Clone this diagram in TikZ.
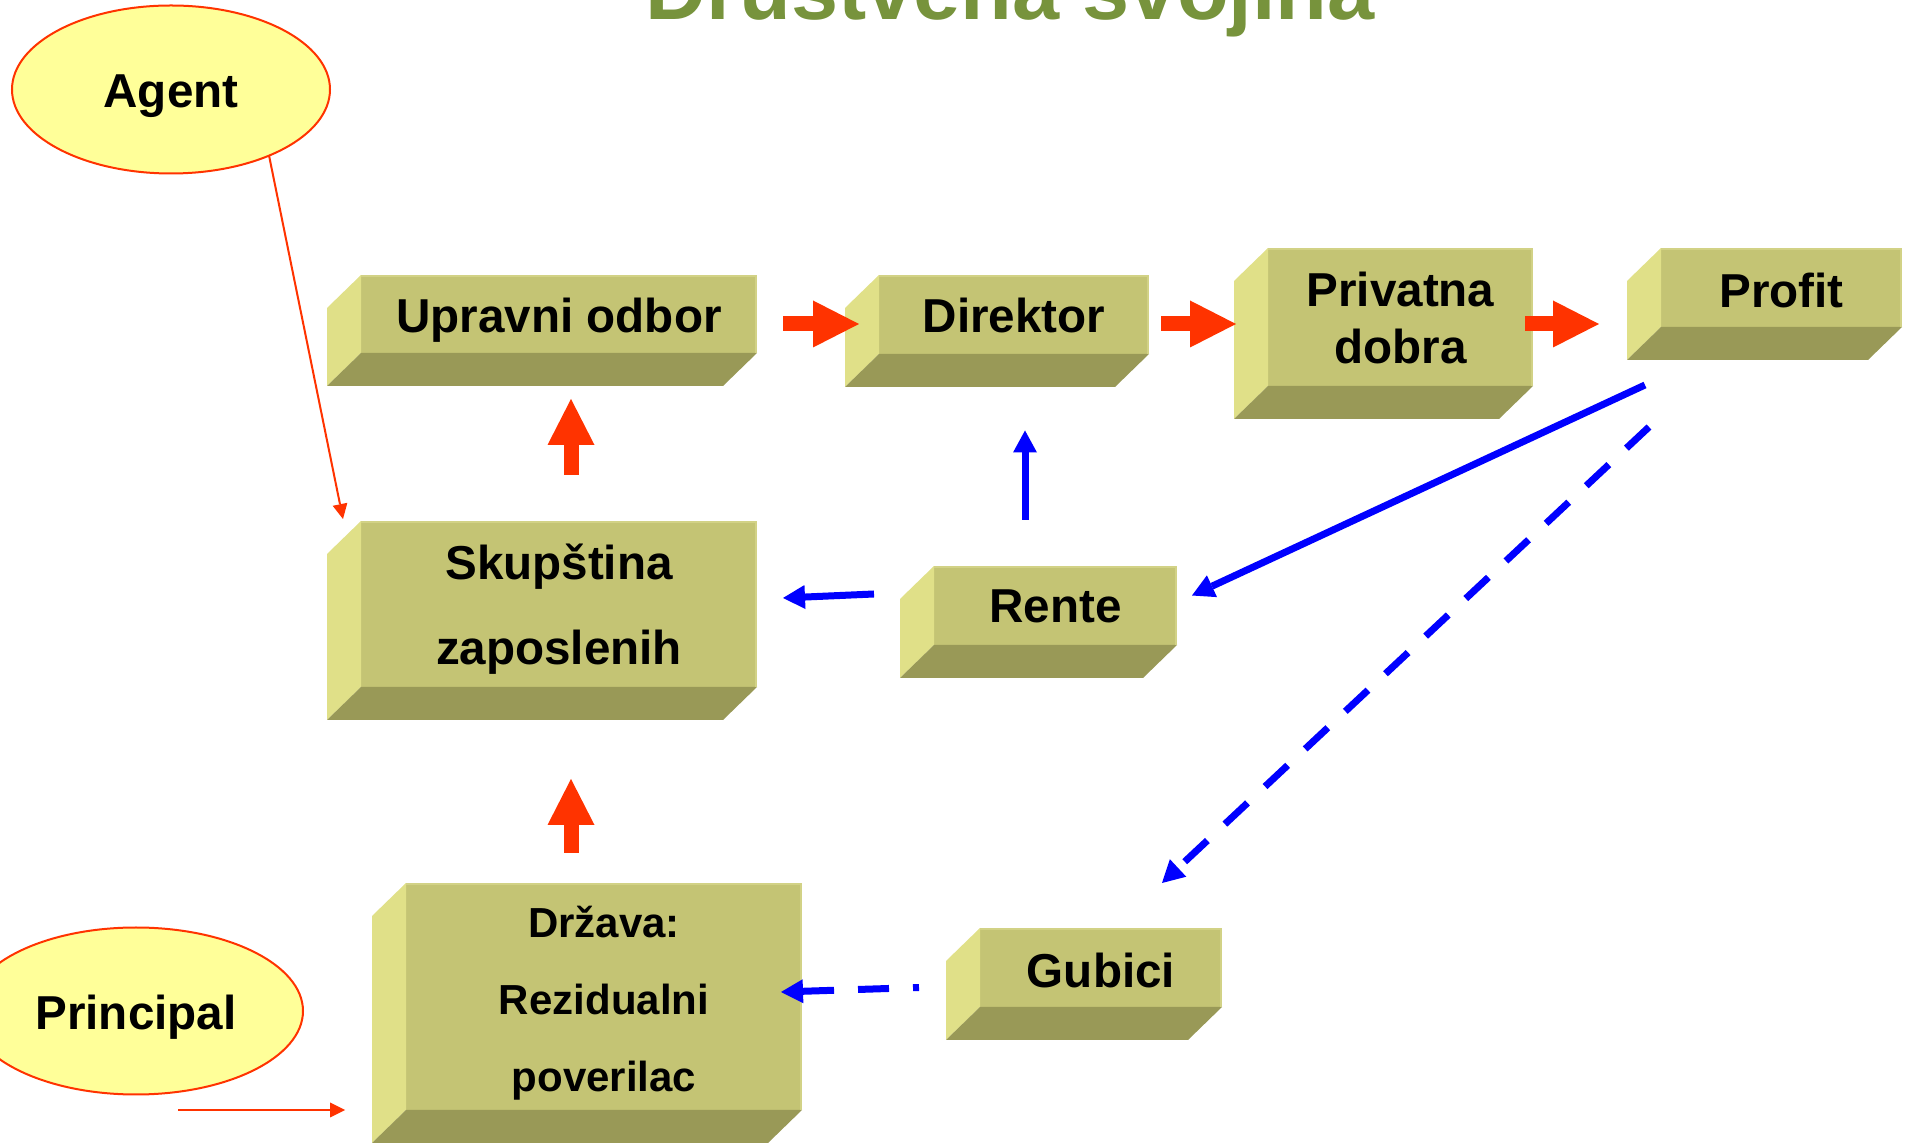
\documentclass[tikz,border=0pt]{standalone}
\usepackage{fontspec}
\setmainfont{Liberation Sans}
\usetikzlibrary{arrows.meta,calc,shapes.geometric}

\definecolor{boxfront}{HTML}{C4C474}
\definecolor{boxside}{HTML}{E0E088}
\definecolor{boxbottom}{HTML}{999957}
\definecolor{boxedge}{HTML}{D2D286}
\definecolor{ovalfill}{HTML}{FFFF99}
\definecolor{ovalline}{HTML}{FF3300}
\definecolor{redflow}{HTML}{FF3300}
\definecolor{blueflow}{HTML}{0000FF}
\definecolor{titlegreen}{HTML}{77933C}

\tikzset{
  face/.style={fill=boxfront, inner sep=0pt, outer sep=0pt},
  label text/.style={inner sep=0pt, align=center, text=black,
    font=\fontsize{23.8pt}{28pt}\selectfont\bfseries},
  oval/.style={ellipse, draw=ovalline, fill=ovalfill, line width=1pt,
    inner sep=0pt, outer sep=0pt},
  blockarrow/.style={draw=redflow, line width=7.5pt,
    -{Triangle[length=23pt,width=23.5pt,line width=0pt]}},
  flowarrow/.style={draw=blueflow, line width=3.5pt,
    -{Triangle[length=11pt,width=12pt,line width=0pt]}},
  dashflow/.style={flowarrow, dash pattern=on 15.5pt off 12pt},
  thinarrow/.style={draw=redflow, line width=1pt,
    -{Triangle[length=7.5pt,width=7.5pt,line width=0pt]}},
}

% side and bottom faces of an extruded box behind a front-face node
\newcommand\extrude[1]{%
  \fill[boxside] (#1.north west) -- (#1.south west) -- ++(-34,33)
    -- ($(#1.north west)+(-34,33)$) -- cycle;
  \fill[boxbottom] (#1.south west) -- (#1.south east) -- ++(-34,33)
    -- ($(#1.south west)+(-34,33)$) -- cycle;
  \draw[boxedge, line width=1.2pt] ($(#1.north west)+(0,1)$)
    -- ($(#1.north east)+(-1,1)$) -- ($(#1.south east)+(-1,0)$);
}

% \solidbox{name}{x}{y}{width}{height}{text shift}{line spacing}{text}
\newcommand\solidbox[8]{%
  \node[face, minimum width=#4, minimum height=#5] (#1) at (#2,#3) {};
  \extrude{#1}
  \node[label text, font=\fontsize{23.8pt}{#7}\selectfont\bfseries]
    (#1-text) at ($(#1.center)+(0,#6)$) {#8};
}

\begin{document}
\begin{tikzpicture}[x=0.5pt, y=-0.5pt]
\useasboundingbox (0,0) rectangle (1908,1143);
\clip (0,0) rectangle (1908,1143);

% title
\node[font=\fontsize{42.35pt}{50pt}\selectfont\bfseries, text=titlegreen,
  anchor=base] (title) at (1010,20) {Društvena svojina};

% boxes
\solidbox{up}{559}{314}{198pt}{39pt}{6}{28pt}{Upravni odbor}
\solidbox{dir}{1014}{314.5}{135pt}{39.5pt}{1}{28pt}{Direktor}
\solidbox{pd}{1400.5}{317}{132.5pt}{69pt}{1}{28.5pt}{Privatna\\dobra}
\solidbox{pro}{1781.5}{287.5}{120.5pt}{39.5pt}{2.5}{28pt}{Profit}
\solidbox{sk}{559}{604}{198pt}{83pt}{5}{42.5pt}{Skupština\\zaposlenih}
\solidbox{ren}{1055.5}{605.5}{121.5pt}{39.5pt}{1}{28pt}{Rente}
\solidbox{gub}{1101}{967.5}{121pt}{39.5pt}{2.5}{28pt}{Gubici}
\node[face, minimum width=198pt, minimum height=113.5pt] (drz) at (604,996.5) {};
\extrude{drz}
\node[label text, font=\fontsize{21pt}{38.5pt}\selectfont\bfseries]
  (drz-text) at ($(drz.center)+(0,6.5)$) {Država:\\Rezidualni\\poverilac};

% roles
\node[oval, minimum width=159pt, minimum height=84pt] (ag) at (171,89.5) {};
\node[label text] (ag-text) at ($(ag.center)+(0,7)$) {Agent};
\node[oval, minimum width=167pt, minimum height=83.5pt] (pr) at (136,1011) {};
\node[label text] (pr-text) at ($(pr.center)+(0,6)$) {Principal};

% main flow
\draw[blockarrow] ($(up.east)+(26,10)$) -- ($(dir.west)+(-20,9.5)$);
\draw[blockarrow] ($(dir.east)+(12,9.5)$) -- ($(pd.west)+(-32,7)$);
\draw[blockarrow] ($(pd.east)+(-8,7)$) -- ($(pro.west)+(-62,36.5)$);
\draw[blockarrow] ($(sk.north)+(12,-46)$) -- ($(up.south)+(12,46)$);
\draw[blockarrow] ($(drz.north)+(-33,-30)$) -- ($(sk.south)+(12,92)$);

% distribution of results
\draw[flowarrow] ($(ren.north)+(-30.5,-46)$) -- ($(dir.south)+(11,76.5)$);
\draw[flowarrow] ($(ren.west)+(-60,-11.5)$) -- ($(sk.east)+(26,-6)$);
\draw[flowarrow] ($(pro.south west)+(-16,58)$) -- ($(ren.east)+(15,-10)$);
\draw[dashflow] ($(pro.south west)+(-12,100)$) -- ($(gub.north west)+(182,-45)$);
\draw[dashflow, dash phase=12.5pt] ($(gub.west)+(-61,20)$) -- ($(drz.east)+(-21,-4.5)$);

% role links
\draw[thinarrow] (ag.-34.6) -- ($(sk.north west)+(-18,-2)$);
\draw[thinarrow] ($(pr.south)+(42,15.5)$) -- ($(drz.south west)+(-61,0)$);
\end{tikzpicture}
\end{document}
